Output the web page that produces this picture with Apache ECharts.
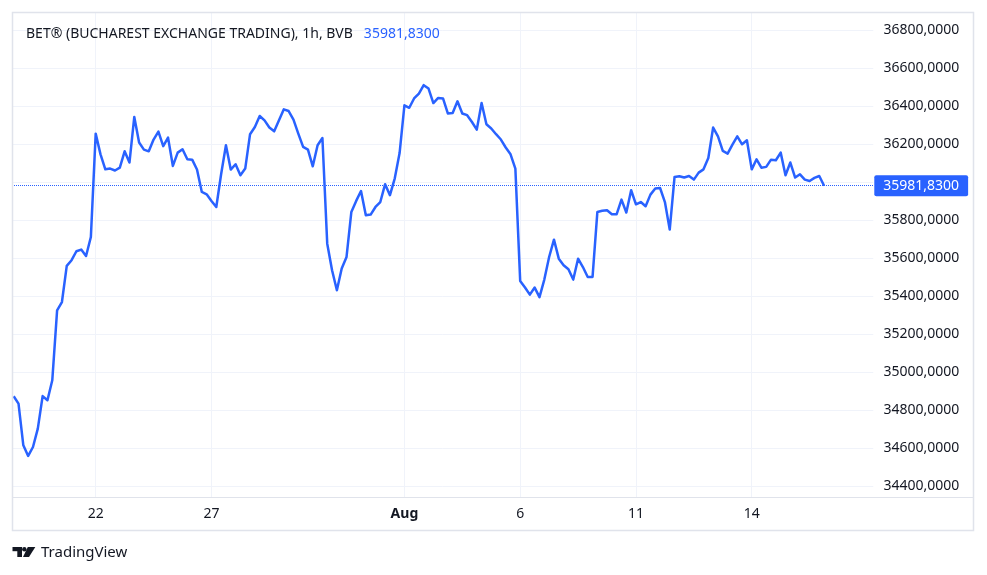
<!doctype html>
<html>
<head>
<meta charset="utf-8">
<script src="https://cdn.jsdelivr.net/npm/echarts@6/dist/echarts.min.js"></script>
<title>BET 1h</title>
<style>
	html, body { margin: 0; padding: 0; background: #fff; }
	#chart { width: 987px; height: 575px; }
</style>
</head>
<body>

<div id="chart"></div>

<script>
// hourly closes, one value per bar
var closes = [
	34874, 34835, 34616, 34560, 34607, 34704, 34875, 34853, 34958, 35326,
	35370, 35560, 35590, 35637, 35646, 35612, 35712, 36256, 36147, 36068,
	36072, 36062, 36077, 36163, 36104, 36344, 36209, 36172, 36163, 36225,
	36267, 36190, 36235, 36086, 36156, 36174, 36121, 36119, 36067, 35949,
	35937, 35902, 35870, 36042, 36195, 36067, 36095, 36037, 36072, 36253,
	36291, 36349, 36326, 36288, 36268, 36326, 36384, 36375, 36330, 36256,
	36186, 36172, 36084, 36195, 36233, 35677, 35537, 35432, 35546, 35607,
	35844, 35902, 35954, 35826, 35830, 35870, 35896, 35990, 35932, 36021,
	36154, 36405, 36392, 36441, 36467, 36511, 36493, 36417, 36444, 36441,
	36362, 36365, 36426, 36362, 36353, 36317, 36277, 36417, 36305, 36283,
	36253, 36225, 36183, 36147, 36072, 35481, 35446, 35409, 35446, 35396,
	35488, 35607, 35698, 35598, 35563, 35542, 35488, 35598, 35554, 35502,
	35502, 35844, 35850, 35853, 35832, 35832, 35909, 35841, 35958, 35884,
	35896, 35874, 35935, 35967, 35970, 35896, 35751, 36028, 36032, 36025,
	36033, 36014, 36051, 36068, 36128, 36288, 36242, 36165, 36151, 36198,
	36242, 36200, 36221, 36068, 36121, 36077, 36081, 36119, 36116, 36156,
	36037, 36104, 36025, 36042, 36014, 36007, 36023, 36033, 35981.83
]
var lastPrice = 35981.83

// x labels and the bar they sit on
var xLabels = ['22', '27', 'Aug', '6', '11', '14']
var xLabelBars = [17, 41, 81, 105, 129, 153]

var titleText = 'BET® (BUCHAREST EXCHANGE TRADING), 1h, BVB'

var blue = '#2962ff'
var ink = '#131722'
var grid = '#f0f3fa'
var frame = '#e0e3eb'
var font = 'Noto Sans'

function fmt(v) {
	return v.toFixed(4).replace('.', ',')
}

var lineData = closes.map(function(v, i) { return [i, v] })

var chart = echarts.init(document.getElementById('chart'), null, {renderer: 'canvas'})

var option = {
	animation: false,
	textStyle: { fontFamily: font },
	title: {
		left: 21,
		top: 22,
		text: '{a|' + titleText + '}{b|' + fmt(lastPrice) + '}',
		textStyle: {
			fontWeight: 'normal',
			rich: {
				a: { fontFamily: font, fontSize: 14, fontWeight: 'normal', color: ink },
				b: { fontFamily: font, fontSize: 14, fontWeight: 'normal', color: blue, padding: [0, 0, 0, 11] }
			}
		}
	},
	grid: { left: 12, right: 113.7, top: 12, bottom: 78, containLabel: false },
	xAxis: {
		type: 'value',
		min: -0.35,
		max: 178.2,
		axisLine: { show: false },
		axisTick: { show: false, customValues: xLabelBars },
		splitLine: { show: true, lineStyle: { color: grid, width: 1 } },
		axisLabel: {
			customValues: xLabelBars,
			margin: 10,
			fontFamily: font,
			fontSize: 14,
			color: ink,
			formatter: function(v) {
				var k = xLabelBars.indexOf(Math.round(v))
				var s = k >= 0 ? xLabels[k] : ''
				return s === 'Aug' ? '{b|Aug}' : s
			},
			rich: { b: { fontWeight: 'bold', fontSize: 14, color: ink, fontFamily: font } }
		}
	},
	yAxis: {
		type: 'value',
		position: 'right',
		min: 34344,
		max: 36896,
		splitNumber: 12,
		minInterval: 200,
		maxInterval: 200,
		axisLine: { show: false },
		axisTick: { show: false },
		splitLine: { show: true, lineStyle: { color: grid, width: 1 } },
		axisLabel: {
			showMinLabel: false,
			showMaxLabel: false,
			align: 'right',
			margin: 86,
			fontFamily: font,
			fontSize: 14,
			color: ink,
			formatter: fmt
		}
	},
	series: [{
		type: 'line',
		data: lineData,
		showSymbol: false,
		symbol: 'none',
		lineStyle: { color: blue, width: 2.5, join: 'round' },
		z: 3,
		markLine: {
			silent: true,
			symbol: ['none', 'none'],
			animation: false,
			lineStyle: { color: blue, type: 'dotted', width: 1 },
			label: {
				show: true,
				position: 'end',
				distance: 1,
				formatter: fmt(lastPrice),
				color: '#fff',
				fontFamily: font,
				fontSize: 14,
				backgroundColor: blue,
				padding: [4, 9, 3, 9],
				borderRadius: 2
			},
			data: [{ yAxis: lastPrice }]
		}
	}],
	graphic: [
		{ type: 'rect', shape: { x: 12.5, y: 12.5, width: 961, height: 518 },
			style: { fill: 'none', stroke: frame, lineWidth: 1.5 }, z: 10 },
		{ type: 'line', shape: { x1: 12, y1: 497.5, x2: 974, y2: 497.5 },
			style: { stroke: frame, lineWidth: 1 }, z: 10 },
		// TradingView mark
		{ type: 'rect', shape: { x: 12.5, y: 547, width: 9.5, height: 4.2 }, style: { fill: ink } },
		{ type: 'rect', shape: { x: 17.3, y: 547, width: 4.7, height: 10 }, style: { fill: ink } },
		{ type: 'circle', shape: { cx: 24.3, cy: 549.2, r: 2.2 }, style: { fill: ink } },
		{ type: 'polygon', shape: { points: [[27.8, 547], [35.3, 547], [29, 557], [23, 557]] }, style: { fill: ink } },
		{ type: 'text', x: 41, y: 553, style: { text: 'TradingView', fill: ink, fontFamily: font, fontSize: 15, verticalAlign: 'middle' } }
	]
}

chart.setOption(option)
</script>

</body>
</html>
